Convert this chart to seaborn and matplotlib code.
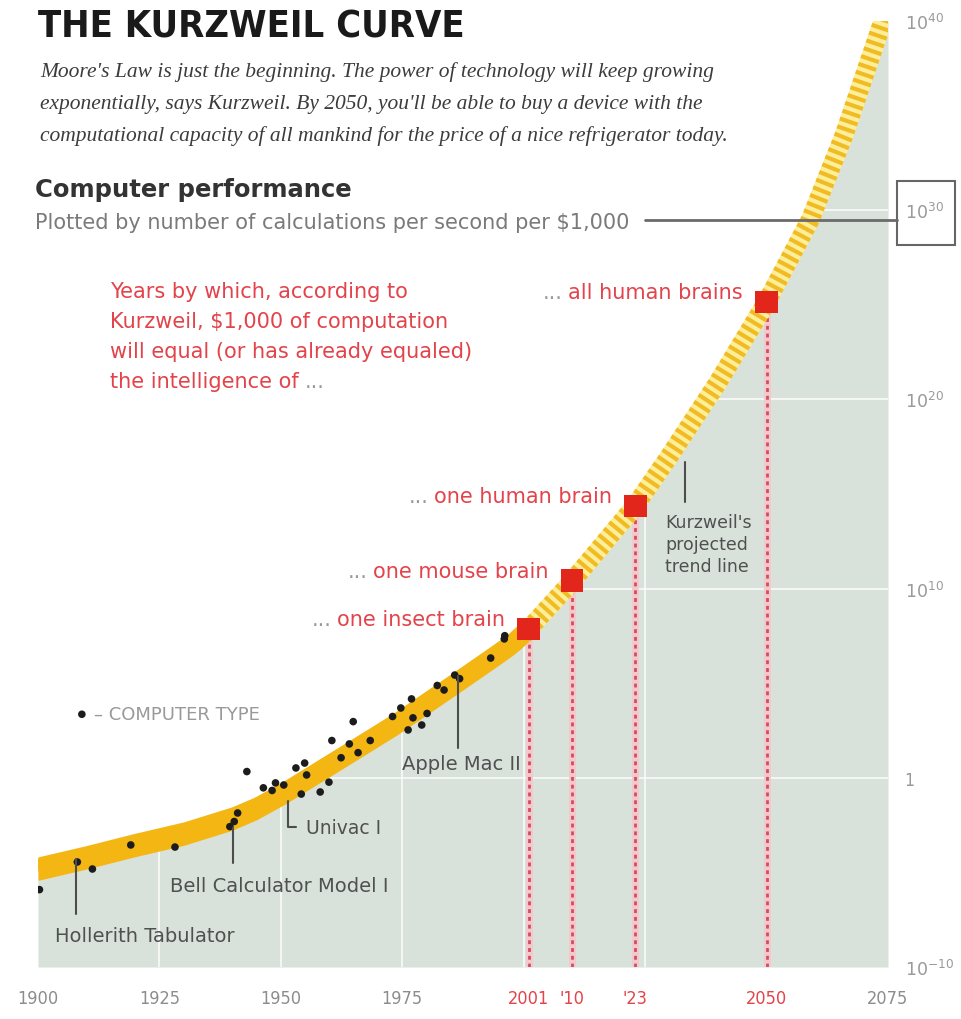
import matplotlib
matplotlib.use("Agg")
import matplotlib.pyplot as plt
from matplotlib import font_manager
from matplotlib.font_manager import FontProperties
from matplotlib.lines import Line2D
from matplotlib.patches import Rectangle
from matplotlib.ticker import NullLocator
import numpy as np
import pandas as pd
import seaborn as sns

# trend band (year, log10 of calculations per second per $1,000)
trend_years = [1900, 1910, 1920, 1930, 1940, 1945, 1951, 1957, 1963, 1974, 1986, 1995, 1998,
               2001, 2010, 2023, 2030, 2040, 2050, 2059, 2066, 2075]
trend_log = [-4.8, -4.2, -3.55, -2.95, -2.15, -1.6, -0.75, 0.2, 1.15, 2.9, 5.0, 6.6, 7.15,
             7.85, 10.4, 14.4, 17.0, 20.9, 25.15, 29.5, 34.0, 40.8]

# individual computers (black dots)
machine_years = [1900.3, 1908.1, 1911.2, 1919.1, 1928.2, 1939.5, 1940.4, 1941.1, 1943.0,
                 1946.4, 1948.2, 1948.9, 1950.6, 1953.1, 1954.9, 1955.3, 1954.2, 1958.1,
                 1959.9, 1960.5, 1962.4, 1964.1, 1964.9, 1965.9, 1968.4, 1973.0, 1974.7,
                 1976.9, 1976.2, 1977.2, 1979.0, 1980.1, 1982.2, 1983.6, 1985.8, 1986.8,
                 1993.2, 1996.0, 1996.1]
machine_log = [-5.91, -4.45, -4.82, -3.55, -3.66, -2.58, -2.31, -1.86, 0.33,
               -0.53, -0.67, -0.27, -0.38, 0.52, 0.78, 0.15, -0.86, -0.75,
               -0.23, 1.97, 1.06, 1.79, 2.97, 1.33, 1.97, 3.24, 3.69,
               4.17, 2.53, 3.17, 2.79, 3.40, 4.88, 4.64, 5.43, 5.24,
               6.33, 7.34, 7.51]

# Kurzweil's milestones (red squares)
milestone_years = [2001, 2010, 2023, 2050]
milestone_log = [7.86, 10.42, 14.38, 25.15]
milestone_labels = ["one insect brain", "one mouse brain", "one human brain", "all human brains"]

x_ticks = [1900, 1925, 1950, 1975, 2001, 2010, 2023, 2050, 2075]
x_ticklabels = ["1900", "1925", "1950", "1975", "2001", "'10", "'23", "2050", "2075"]
y_exponents = [-10, 0, 10, 20, 30, 40]
y_ticklabels = ["$10^{-10}$", "1", "$10^{10}$", "$10^{20}$", "$10^{30}$", "$10^{40}$"]

subtitle_lines = [
    "Moore's Law is just the beginning. The power of technology will keep growing",
    "exponentially, says Kurzweil. By 2050, you'll be able to buy a device with the",
    "computational capacity of all mankind for the price of a nice refrigerator today.",
]
red_lines = [
    "Years by which, according to",
    "Kurzweil, $1,000 of computation",
    "will equal (or has already equaled)",
    "the intelligence of",
]

RED = "#e3434a"
GREY = "#8c8c8c"
DARK = "#505050"


def find_narrow(bold):
    # look for an installed narrow / condensed face
    hits = []
    for f in font_manager.fontManager.ttflist:
        fn = f.fname.lower()
        if not any(k in fn for k in ("narrow", "condensed", "cond")):
            continue
        if "italic" in fn or "oblique" in fn or "light" in fn or "thin" in fn:
            continue
        is_bold = "bold" in fn and "semibold" not in fn
        if is_bold == bold:
            hits.append(f.fname)
    return sorted(hits)[0] if hits else None


sns.set_theme(style="white")
plt.rcParams["font.family"] = ["DejaVu Sans"]

narrow_reg = find_narrow(False)
narrow_bold = find_narrow(True)
if narrow_reg:
    tick_fp = FontProperties(fname=narrow_reg, size=13)
    plt.rcParams["mathtext.fontset"] = "custom"
    plt.rcParams["mathtext.rm"] = tick_fp.get_name()
else:
    tick_fp = FontProperties(family="Liberation Sans", size=12.5)
    plt.rcParams["mathtext.fontset"] = "custom"
    plt.rcParams["mathtext.rm"] = "Liberation Sans"
title_fp = (FontProperties(fname=narrow_bold, size=36) if narrow_bold
            else FontProperties(family="Liberation Sans", weight="bold", size=30))

W, H = 961, 1020
fig = plt.figure(figsize=(W / 100, H / 100), dpi=100)
ax = fig.add_axes([38 / W, 52 / H, 850 / W, 946 / H])
ax.set_yscale("log")

tr = pd.DataFrame({"year": trend_years, "log": trend_log})
tr["value"] = 10.0 ** tr["log"]
mc = pd.DataFrame({"year": machine_years, "value": 10.0 ** np.array(machine_log)})
ms = pd.DataFrame({"year": milestone_years, "value": 10.0 ** np.array(milestone_log),
                   "label": milestone_labels})

# grey area under the curve with faint white grid
ax.fill_between(tr["year"], tr["value"], 1e-10, color="#d9e1db", lw=0, zorder=1)
for yr in range(1925, 2075, 25):
    ax.axvline(yr, color="white", lw=1.3, alpha=0.8, zorder=1.5)
for e in [0, 10, 20, 30]:
    ax.axhline(10.0 ** e, color="white", lw=1.3, alpha=0.8, zorder=1.5)

# dashed drop lines from the milestones
ax.vlines(ms["year"], 1e-10, ms["value"], colors="#f4c9cd", lw=5, zorder=2)
ax.vlines(ms["year"], 1e-10, ms["value"], colors="#cf4f5c", lw=2.0,
          linestyles=(0, (1.4, 1.4)), zorder=2.1)

# measured band (solid gold)
past = tr[tr["year"] <= 2001]
ax.fill_between(past["year"], 10.0 ** (past["log"] - 0.62), 10.0 ** (past["log"] + 0.62),
                color="#f4b612", lw=0, zorder=3)
ax.plot(past["year"], past["value"], color="#f4b612", lw=14, solid_capstyle="butt",
        solid_joinstyle="round", zorder=3)
# projected band (striped)
future = tr[tr["year"] >= 2001]
ax.plot(future["year"], future["value"], color="#fdee9a", lw=13.5, solid_capstyle="butt",
        zorder=3.1)
ax.plot(future["year"], future["value"], color="#f1bb24", lw=13.5, dashes=(0.22, 0.22),
        dash_capstyle="butt", zorder=3.2)

sns.scatterplot(data=mc, x="year", y="value", s=30, color="#1c1c1c", edgecolor="none",
                zorder=4, ax=ax, label="– COMPUTER TYPE")
sns.scatterplot(data=ms, x="year", y="value", s=260, marker="s", color="#e3261c",
                edgecolor="none", zorder=5, ax=ax, legend=False)

ax.set_xlim(1900, 2075)
ax.set_ylim(1e-10, 1e40)
ax.set_xlabel("")
ax.set_ylabel("")
for s in ax.spines.values():
    s.set_visible(False)

ax.set_xticks(x_ticks, x_ticklabels)
ax.tick_params(axis="x", direction="out", length=8, width=1.4, color="#9a9a9a",
               pad=8, labelcolor=GREY)
for lab in ax.get_xticklabels():
    lab.set_fontproperties(tick_fp)
    if lab.get_text() in ["2001", "'10", "'23", "2050"]:
        lab.set_color(RED)
ax.yaxis.tick_right()
ax.set_yticks(10.0 ** np.array(y_exponents, dtype=float), y_ticklabels)
ax.yaxis.set_minor_locator(NullLocator())
ax.tick_params(axis="y", length=0, pad=12, labelcolor="#9a9a9a")
for lab in ax.get_yticklabels():
    lab.set_fontproperties(tick_fp)
    lab.set_fontsize(12.5)

leg = ax.legend(loc="center left", bbox_to_anchor=(62 / W, 1 - 715 / H),
                bbox_transform=fig.transFigure, frameon=False, borderpad=0,
                handletextpad=0.1, handlelength=1.2, fontsize=13)
for t in leg.get_texts():
    t.set_color("#999999")

# milestone labels
for _, row in ms.iterrows():
    t = ax.annotate(row["label"], xy=(row["year"], row["value"]), xytext=(-17, 7),
                    textcoords="offset points", ha="right", va="center",
                    fontsize=15, color=RED, zorder=6)
    ax.annotate("...", xy=(0, 0.5), xycoords=t, xytext=(-4, 0),
                textcoords="offset points", ha="right", va="center",
                fontsize=15, color="#999999")


# computer labels with leader lines
def leader(x, y0, y1):
    ax.plot([x, x], [10.0 ** y0, 10.0 ** y1], color="#4d4d4d", lw=1.5, zorder=4)


leader(1986.5, 5.4, 1.6)
ax.text(1987.2, 10.0 ** 0.73, "Apple Mac II", ha="center", va="center", fontsize=14, color=DARK)
ax.plot([1951.4, 1951.4, 1953.1], [10.0 ** -1.23, 10.0 ** -2.58, 10.0 ** -2.58],
        color="#4d4d4d", lw=1.5, zorder=4)
ax.text(1955.2, 10.0 ** -2.64, "Univac I", ha="left", va="center", fontsize=13.5, color=DARK)
leader(1940.25, -2.65, -4.5)
ax.text(1927.2, 10.0 ** -5.67, "Bell Calculator Model I", ha="left", va="center",
        fontsize=14, color=DARK)
leader(1907.9, -4.3, -7.2)
ax.text(1903.5, 10.0 ** -8.31, "Hollerith Tabulator", ha="left", va="center",
        fontsize=14, color=DARK)
leader(2033.2, 16.7, 14.6)
ax.text(2029.1, 10.0 ** 12.36, "Kurzweil's\nprojected\ntrend line", ha="left", va="center",
        fontsize=12.5, color=DARK, linespacing=1.3)

# headline block
title = fig.text(38 / W, 1 - 37 / H, "THE KURZWEIL CURVE", fontproperties=title_fp,
                 color="#1a1a1a", va="baseline")
# size the title to the width seen in the original
fig.canvas.draw()
title.set_fontsize(title_fp.get_size() * 427 / title.get_window_extent().width)

for i, line in enumerate(subtitle_lines):
    fig.text(40 / W, 1 - (72 + 32 * i) / H, line, fontsize=15.5, style="italic",
             family="Liberation Serif", color="#3c3c3c", va="center")
fig.text(35 / W, 1 - 190 / H, "Computer performance", fontsize=17.5, fontweight="bold",
         color="#333333", va="center")
fig.text(35 / W, 1 - 223 / H, "Plotted by number of calculations per second per $1,000",
         fontsize=15, color="#7a7a7a", va="center")
fig.add_artist(Line2D([645 / W, 897 / W], [1 - 221 / H, 1 - 221 / H],
                      transform=fig.transFigure, color="#6a6a6a", lw=2))
fig.add_artist(Rectangle((897 / W, 1 - 246 / H), 58 / W, 64 / H, transform=fig.transFigure,
                         fill=False, edgecolor="#666666", lw=1.5))

for i, line in enumerate(red_lines):
    t = fig.text(110 / W, 1 - (292 + 30 * i) / H, line, fontsize=15, color=RED, va="center")
ax.annotate("...", xy=(1, 0.5), xycoords=t, xytext=(4, 0), textcoords="offset points",
            ha="left", va="center", fontsize=15, color="#999999")

fig.savefig("out.png", dpi=100)
